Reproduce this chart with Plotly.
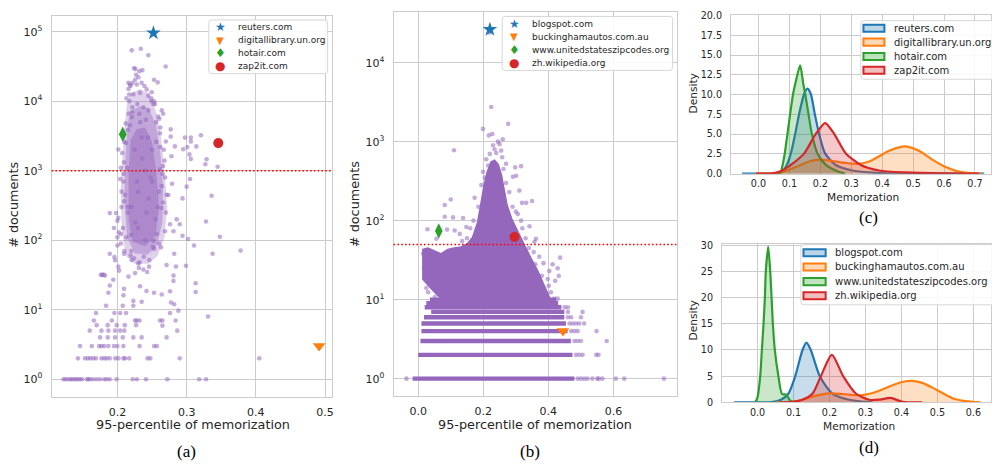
import plotly.graph_objects as go

W, H = 992, 466
PURPLE = '#9467bd'
BLUE, ORANGE, GREEN, RED = '#1f77b4', '#ff7f0e', '#2ca02c', '#d62728'
TXT = '#262626'
GRID = '#cccccc'
FONT = 'DejaVu Sans'

# ---------------- panel (a) data ----------------
a_names = ['reuters.com', 'digitallibrary.un.org', 'hotair.com', 'zap2it.com']
a_hi_x = [0.252, 0.4913, 0.2077, 0.3457]
a_hi_y = [96000, 3, 3350, 2500]
a_threshold = 1000

a_x = [0.2976, 0.306, 0.3207, 0.306, 0.301, 0.314, 0.295, 0.304, 0.306, 0.3288, 0.327, 0.3447, 0.277, 0.270, 0.283, 0.278,
       0.305, 0.300, 0.294, 0.279, 0.2736, 0.336, 0.328, 0.348, 0.378, 0.3375, 0.3106, 0.302, 0.294, 0.290, 0.2856, 0.281,
       0.282, 0.271, 0.2846, 0.299, 0.281, 0.281, 0.313, 0.313, 0.276, 0.264, 0.2774, 0.282, 0.288, 0.276, 0.331, 0.284,
       0.265, 0.2615, 0.2865, 0.271, 0.253, 0.257, 0.29, 0.2435, 0.2476, 0.405, 0.272, 0.318, 0.328, 0.2413, 0.228, 0.222,
       0.122, 0.125, 0.128, 0.1317, 0.134, 0.1375, 0.140, 0.143, 0.146, 0.149, 0.156, 0.158, 0.1606, 0.165, 0.170, 0.175,
       0.181, 0.1846, 0.189, 0.199,
       0.143, 0.153, 0.157, 0.1606, 0.165, 0.169, 0.177, 0.181, 0.1846, 0.189, 0.197, 0.2014, 0.2087, 0.211, 0.217,
       0.146, 0.163, 0.1736, 0.177, 0.181, 0.187, 0.195, 0.2, 0.2087, 0.232,
       0.175, 0.186, 0.1966, 0.2077, 0.223, 0.235,
       0.16, 0.177, 0.187, 0.1966, 0.204, 0.21,
       0.17, 0.186, 0.199, 0.2106, 0.227,
       0.166, 0.192, 0.2255, 0.228, 0.232, 0.265,
       0.169, 0.1957, 0.204, 0.2125,
       0.1837, 0.2077, 0.223,
       0.187, 0.189, 0.194, 0.176, 0.178, 0.2024, 0.2014, 0.1966, 0.2096, 0.2087, 0.223, 0.235, 0.242, 0.2529, 0.2327,
       0.216, 0.2255, 0.2375, 0.2457, 0.2207, 0.23, 0.189, 0.1957, 0.2, 0.189, 0.198, 0.2014, 0.205, 0.2096,
       0.2014, 0.204, 0.206, 0.2096, 0.2096, 0.2125, 0.215, 0.2163, 0.2173, 0.219, 0.222, 0.2159, 0.2255, 0.2303, 0.235,
       0.239, 0.228, 0.223, 0.2327, 0.2423, 0.2447, 0.2495, 0.252, 0.264, 0.266, 0.2606, 0.277, 0.2615, 0.2543, 0.253,
       0.2495, 0.2216, 0.2288, 0.2375, 0.2447, 0.2207, 0.2317, 0.241,
       0.2207, 0.2337, 0.2447, 0.2697, 0.224, 0.2317, 0.2529, 0.2582, 0.2183, 0.227,
       0.2615, 0.266, 0.264, 0.257, 0.263, 0.252, 0.2688, 0.276, 0.195, 0.2, 0.205, 0.21, 0.18, 0.182, 0.2, 0.202,
       0.22, 0.23, 0.24, 0.25, 0.235, 0.225, 0.245, 0.255, 0.23, 0.24, 0.22, 0.215, 0.25, 0.26, 0.218, 0.244, 0.228,
       0.236, 0.248, 0.214, 0.258, 0.226, 0.233, 0.242, 0.219, 0.251,
       0.207, 0.209, 0.211, 0.206, 0.208, 0.21, 0.212, 0.205, 0.209, 0.267, 0.269, 0.271, 0.266, 0.27, 0.268, 0.264,
       0.262, 0.259, 0.256, 0.213, 0.216, 0.22, 0.224, 0.232, 0.238, 0.246, 0.253, 0.26, 0.217, 0.221, 0.249, 0.256,
       0.213, 0.215, 0.262, 0.265, 0.231, 0.243, 0.236, 0.226]
a_y = [3000, 3000, 3240, 2630, 2190, 2240, 2040, 1720, 1480, 1460, 1240, 1140, 3100, 2630, 2240, 1620,
       760, 590, 400, 650, 447, 436, 186, 112, 71, 64, 84, 104, 116, 170, 200, 135,
       64, 44, 42, 43, 31, 26, 24, 18, 18.5, 16.6, 12.7, 12, 9.7, 9, 8, 7,
       5.9, 7, 5, 4, 3, 3, 2, 2, 2, 2, 1, 1, 1, 1, 1, 1,
       1, 1, 1, 1, 1, 1, 1, 1, 1, 1, 1, 1, 1, 1, 1, 1,
       1, 1, 1, 1,
       2, 2, 2, 2, 2, 2, 2, 2, 2, 2, 2, 2, 2, 2, 2,
       3, 3, 3, 3, 3, 3, 3, 3, 3, 3,
       4, 4, 4, 4, 4, 4,
       5, 5, 5, 5, 5, 5,
       6, 6, 6, 6, 6,
       7, 7, 7, 7, 7, 7,
       9, 9, 9, 9,
       11.4, 11.4, 11.4,
       17.6, 22.3, 27, 31.8, 31.8, 36.6, 41.7, 51.6, 20, 16.1, 13.4, 13, 18.6, 17.6, 21.8,
       30, 33.7, 38, 41.7, 51.6, 46.4, 64, 57.5, 84, 246, 246, 210, 123, 64,
       2020, 762, 500, 363, 1320, 2500, 3860, 6600, 10000, 16600, 18400, 18400, 20400, 22100, 18400,
       16600, 17400, 12600, 13200, 14800, 12000, 10000, 9100, 7400, 6600, 5600, 3940, 3470, 9100, 10000,
       13500, 8200, 9100, 8200, 7400, 5900, 6600, 5400,
       54000, 57000, 46000, 31600, 30000, 27000, 20400, 18700, 17400, 24000,
       1050, 1170, 290, 123, 79, 98, 135, 170, 150, 110, 90, 70, 32, 31, 190, 130,
       300, 500, 1000, 2000, 3000, 2000, 400, 200, 150, 100, 120, 250, 700, 500, 4500, 3000, 700,
       1500, 800, 1100, 300, 180, 5000, 250, 60, 80,
       1800, 900, 450, 300, 150, 2600, 4800, 1100, 700, 2000, 800, 450, 350, 250, 1400, 600,
       4200, 6000, 2600, 11000, 15000, 70, 55, 48, 58, 52, 75, 90, 12500, 7000, 11000, 5000,
       110, 300, 2200, 900, 40, 35, 28000, 29000]

# dense core of panel (a): three nested envelopes (loose -> densest)
a_env1_x = [0.214, 0.209, 0.205, 0.206, 0.212, 0.225, 0.245, 0.258, 0.268, 0.272, 0.268, 0.263, 0.256, 0.245, 0.232,
            0.22]
a_env1_y = [10000, 3000, 600, 150, 60, 46, 46, 60, 110, 300, 1000, 3000, 7000, 13000, 15000, 13000]
a_env2_x = [0.216, 0.212, 0.21, 0.214, 0.225, 0.243, 0.256, 0.265, 0.266, 0.262, 0.256, 0.245, 0.232, 0.222]
a_env2_y = [5500, 1800, 400, 110, 65, 62, 80, 180, 600, 1800, 4500, 8000, 8500, 7500]
a_env3_x = [0.219, 0.216, 0.216, 0.222, 0.24, 0.255, 0.26, 0.256, 0.25, 0.24, 0.228]
a_env3_y = [2800, 800, 200, 95, 82, 115, 300, 1000, 2600, 4200, 4000]

# ---------------- panel (b) data ----------------
b_names = ['blogspot.com', 'buckinghamautos.com.au', 'www.unitedstateszipcodes.org', 'zh.wikipedia.org']
b_hi_x = [0.2204, 0.445, 0.0633, 0.296]
b_hi_y = [26300, 4, 74, 62]
b_threshold = 50

b_x = [0.218, 0.2245, 0.2765, 0.199, 0.110, 0.2276, 0.217, 0.26, 0.25, 0.2347, 0.255, 0.209, 0.258, 0.27, 0.316, 0.298,
       0.291, 0.301, 0.199, 0.194, 0.1735, 0.311, 0.319, 0.35, 0.332, 0.10, 0.0816, 0.0816, 0.107, 0.138, 0.316, 0.342,
       0.306, 0.0286, 0.0888, 0.056, 0.112, 0.1276, 0.148, 0.362, 0.357, 0.372, 0.385, 0.413, 0.436, 0.4286, 0.432,
       0.421, 0.403, 0.398, 0.401, 0.408, 0.418, 0.4286, 0.0337, 0.048, 0.061, 0.0306, 0.051, 0.0663, 0.085, 0.107,
       0.117, 0.046, 0.0714, 0.02, 0.015, 0.018, 0.025,
       0.22, 0.24, 0.23, 0.245, 0.215, 0.262, 0.205, 0.27, 0.28, 0.185, 0.29, 0.3, 0.17, 0.16, 0.32, 0.33, 0.34, 0.355,
       0.36, 0.38, 0.39, 0.15, 0.135,
       -0.036, 0.49, 0.5, 0.51, 0.52, 0.535, 0.55, 0.555, 0.566, 0.607, 0.633, 0.755,
       0.485, 0.495, 0.505, 0.547, 0.554,
       0.48, 0.49, 0.5, 0.579,
       0.47, 0.48, 0.49, 0.548,
       0.465, 0.475, 0.485, 0.495, 0.51,
       0.46, 0.47, 0.5,
       0.46, 0.505,
       0.45, 0.46]
b_y = [24000, 2750, 1680, 1450, 780, 1250, 1200, 1070, 930, 800, 770, 600, 635, 525, 490, 473,
       360, 370, 415, 282, 195, 240, 168, 177, 168, 185, 158, 112, 110, 108, 100, 85,
       121, 78, 77, 59, 75, 68, 83, 59, 54, 35, 29, 28, 34, 25, 20,
       17.3, 23, 18.2, 15, 12.4, 10.3, 10.3, 18.2, 15, 13.6, 12.4, 10.8, 10.3, 10, 12.4,
       13.6, 22, 24, 30, 38, 25, 14,
       700, 720, 900, 1000, 500, 450, 350, 300, 230, 150, 150, 130, 100, 80, 80, 60, 45, 40,
       28, 20, 12, 60, 55,
       1, 1, 1, 1, 1, 1, 1, 1, 1, 1, 1, 1,
       2, 2, 2, 2, 2,
       3, 3, 3, 3,
       4, 4, 4, 4,
       5, 5, 5, 5, 5,
       6, 6, 6,
       7, 7,
       8, 8]

# integer-count rows of panel (b): count value and x extent of the dense row
b_row_count = [1, 2, 3, 4, 5, 6, 7, 8, 9, 10]
b_row_x0 = [-0.017, 0.0, 0.007, 0.010, 0.010, 0.018, 0.040, 0.020, 0.025, 0.036]
b_row_x1 = [0.48, 0.474, 0.469, 0.459, 0.454, 0.449, 0.449, 0.44, 0.43, 0.424]

# dense cloud envelope of panel (b)
b_cloud_x = [0.012, 0.012, 0.03, 0.05, 0.07, 0.09, 0.11, 0.13, 0.15, 0.165, 0.18, 0.19, 0.2, 0.21, 0.222, 0.235,
             0.248, 0.258, 0.266, 0.275, 0.29, 0.31, 0.33, 0.35, 0.37, 0.39, 0.405, 0.412, 0.1, 0.06, 0.035]
b_cloud_y = [18, 44, 46, 42, 39, 44, 46, 47, 52, 62, 95, 160, 280, 420, 560, 600, 520, 380, 250, 160, 105, 70, 48,
             33, 23, 15, 11, 9, 9, 11, 14]

# ---------------- panel (c) KDEs ----------------
c_x = [
    [-0.053, 0.0, 0.05, 0.078, 0.0916, 0.1047, 0.1186, 0.1315, 0.1477, 0.158, 0.169, 0.182, 0.196, 0.2155, 0.25,
     0.3037, 0.358, 0.42, 0.5, 0.6, 0.73],
    [-0.01, 0.04, 0.072, 0.12, 0.164, 0.196, 0.239, 0.282, 0.325, 0.358, 0.39, 0.422, 0.465, 0.4814, 0.519, 0.562,
     0.605, 0.648, 0.691, 0.72],
    [0.062, 0.072, 0.078, 0.085, 0.0937, 0.1024, 0.112, 0.1186, 0.1347, 0.145, 0.151, 0.1616, 0.1725, 0.1906, 0.218,
     0.255, 0.28],
    [-0.008, 0.04, 0.0716, 0.1047, 0.1477, 0.1854, 0.2155, 0.2446, 0.2824, 0.331, 0.39, 0.476, 0.6, 0.713],
]
c_y = [
    [0, 0, 0.02, 0.3, 1.1, 2.56, 5.03, 7.55, 10.1, 10.76, 10.1, 7.55, 5.03, 2.56, 1.1, 0.4, 0.15, 0.05, 0.02, 0.01, 0],
    [0, 0.02, 0.12, 0.83, 1.53, 1.78, 1.6, 1.36, 1.24, 1.53, 2.19, 2.89, 3.42, 3.42, 2.89, 1.78, 0.83, 0.25, 0.03, 0],
    [0, 0.2, 1.1, 2.56, 5.03, 7.55, 10.1, 11.3, 13.7, 11.3, 10.1, 7.55, 5.03, 2.56, 1.1, 0.3, 0],
    [0, 0.02, 0.3, 1.1, 2.56, 5.03, 6.4, 5.03, 2.56, 1.1, 0.4, 0.15, 0.03, 0],
]

# ---------------- panel (d) KDEs ----------------
d_x = [
    [-0.065, 0.0, 0.04, 0.065, 0.086, 0.1047, 0.125, 0.136, 0.148, 0.173, 0.208, 0.255, 0.32],
    [0.05, 0.08, 0.116, 0.162, 0.199, 0.236, 0.273, 0.301, 0.338, 0.375, 0.412, 0.43, 0.458, 0.4956, 0.5417, 0.579,
     0.62],
    [-0.0065, 0.0, 0.0074, 0.012, 0.0167, 0.0204, 0.023, 0.0296, 0.0352, 0.039, 0.0426, 0.048, 0.058, 0.068, 0.08,
     0.09, 0.1],
    [0.06, 0.097, 0.125, 0.153, 0.176, 0.2066, 0.238, 0.273, 0.31, 0.34, 0.37, 0.403, 0.458],
]
d_y = [
    [0, 0, 0.05, 0.5, 1.7, 5.0, 10.0, 11.4, 10.0, 5.0, 1.7, 0.5, 0],
    [0, 0.08, 0.37, 1.3, 1.74, 1.6, 1.37, 1.5, 2.24, 3.29, 4.03, 4.1, 3.73, 2.48, 0.81, 0.25, 0],
    [0, 1, 5, 10, 15, 20, 25, 29.7, 25, 20, 15, 10, 5, 1.6, 1.5, 0.4, 0],
    [0, 0.1, 0.5, 1.7, 5.0, 9.07, 5.0, 1.7, 0.5, 0.55, 0.87, 0.1, 0],
]

COLORS = [BLUE, ORANGE, GREEN, RED]
SYMBOLS = ['star', 'triangle-down', 'diamond-tall', 'circle']
SYM_SIZE = [11, 11, 11, 10]
GLYPHS = ['\u2605', '\u25BC', '\u2666', '\u25CF']
GLYPH_SIZE = [12, 10, 12, 12]


def px(x):
    return x / W


def py(y):
    return 1 - y / H


def rgba(hexc, a):
    h = hexc.lstrip('#')
    return 'rgba(%d,%d,%d,%.2f)' % (int(h[0:2], 16), int(h[2:4], 16), int(h[4:6], 16), a)


fig = go.Figure()
common = dict(showlegend=False, hoverinfo='skip')
dot = dict(size=4.6, color=PURPLE, opacity=0.55, line=dict(width=0))

# ---- (a)
for ex, ey, op in [(a_env1_x, a_env1_y, 0.3), (a_env2_x, a_env2_y, 0.4), (a_env3_x, a_env3_y, 0.45)]:
    fig.add_trace(go.Scatter(x=ex, y=ey, mode='lines', fill='toself', fillcolor=rgba(PURPLE, op),
                             line=dict(width=0), xaxis='x', yaxis='y', **common))
fig.add_trace(go.Scatter(x=a_x, y=a_y, mode='markers', marker=dot, xaxis='x', yaxis='y', **common))
for i in range(4):
    fig.add_trace(go.Scatter(x=[a_hi_x[i]], y=[a_hi_y[i]], mode='markers', name=a_names[i],
                             marker=dict(symbol=SYMBOLS[i], size=SYM_SIZE[i], color=COLORS[i], line=dict(width=0)),
                             xaxis='x', yaxis='y', **common))

# ---- (b)
for k, x0, x1 in zip(b_row_count, b_row_x0, b_row_x1):
    fig.add_trace(go.Scatter(x=[x0, x1], y=[k, k], mode='lines', line=dict(color=PURPLE, width=4.4),
                             xaxis='x2', yaxis='y2', **common))
fig.add_trace(go.Scatter(x=b_cloud_x, y=b_cloud_y, mode='lines', fill='toself', fillcolor=PURPLE,
                         line=dict(width=0), xaxis='x2', yaxis='y2', **common))
fig.add_trace(go.Scatter(x=b_x, y=b_y, mode='markers', marker=dot, xaxis='x2', yaxis='y2', **common))
for i in range(4):
    fig.add_trace(go.Scatter(x=[b_hi_x[i]], y=[b_hi_y[i]], mode='markers', name=b_names[i],
                             marker=dict(symbol=SYMBOLS[i], size=SYM_SIZE[i], color=COLORS[i], line=dict(width=0)),
                             xaxis='x2', yaxis='y2', **common))

# ---- (c) and (d)
for xs, ys, names, xa, ya in [(c_x, c_y, a_names, 'x3', 'y3'), (d_x, d_y, b_names, 'x4', 'y4')]:
    for i in range(4):
        fig.add_trace(go.Scatter(x=xs[i], y=ys[i], mode='lines', fill='tozeroy', name=names[i],
                                 fillcolor=rgba(COLORS[i], 0.25),
                                 line=dict(color=COLORS[i], width=2.2, shape='spline', smoothing=0.7),
                                 xaxis=xa, yaxis=ya, **common))


def axis(domain, rng, tickvals, ticktext, size, standoff, anchor, log=False):
    d = dict(domain=domain, range=rng, tickvals=tickvals, ticktext=ticktext, showgrid=True, gridcolor=GRID,
             gridwidth=1, showline=True, linecolor=GRID, linewidth=1, mirror=True, zeroline=False, ticks='',
             tickfont=dict(family=FONT, size=size, color=TXT), ticklabelstandoff=standoff, anchor=anchor,
             fixedrange=True)
    if log:
        d['type'] = 'log'
    return d


def sup(e):
    return '10<sup>%d</sup>' % e


layout = dict(
    width=W, height=H, margin=dict(l=0, r=0, t=0, b=0), paper_bgcolor='white', plot_bgcolor='white',
    font=dict(family=FONT, color=TXT),
    xaxis=axis([px(51.7), px(332.7)], [0.105, 0.5105], [0.2, 0.3, 0.4, 0.5], ['0.2', '0.3', '0.4', '0.5'], 11, 5,
               'y'),
    yaxis=axis([py(400), py(10)], [-0.249, 5.23], [1, 10, 100, 1e3, 1e4, 1e5], [sup(e) for e in range(6)], 11, 6,
               'x', log=True),
    xaxis2=axis([px(394), px(677.3)], [-0.0755, 0.794], [0.0, 0.2, 0.4, 0.6], ['0.0', '0.2', '0.4', '0.6'], 11, 5,
                'y2'),
    yaxis2=axis([py(399.3), py(6)], [-0.218, 4.643], [1, 10, 100, 1e3, 1e4], [sup(e) for e in range(5)], 11, 6,
                'x2', log=True),
    xaxis3=axis([px(731.7), 1.0], [-0.089, 0.7518], [i / 10 for i in range(8)], ['%.1f' % (i / 10) for i in range(8)],
                9.6, 1, 'y3'),
    yaxis3=axis([py(171.7), py(9.7)], [0, 20], [2.5 * i for i in range(9)], ['%.1f' % (2.5 * i) for i in range(9)],
                9.6, 6, 'x3'),
    xaxis4=axis([px(722.7), 1.0], [-0.0989, 0.649], [i / 10 for i in range(7)], ['%.1f' % (i / 10) for i in range(7)],
                9.6, 1, 'y4'),
    yaxis4=axis([py(406), py(243.3)], [0, 30.3], [5 * i for i in range(7)], [str(5 * i) for i in range(7)],
                9.6, 6, 'x4'),
)
fig.update_layout(**layout)

shapes = []
# threshold lines
for xa, ya, thr in [('x', 'y', a_threshold), ('x2', 'y2', b_threshold)]:
    shapes.append(dict(type='line', xref=xa + ' domain', yref=ya, x0=0, x1=1, y0=thr, y1=thr,
                       line=dict(color='red', width=1.6, dash='1.6px,2.2px'), layer='above'))


def rounded_box(x0, y0, x1, y1, r=3):
    rx, ry = r / W, r / H
    X0, X1, Y0, Y1 = px(x0), px(x1), py(y0), py(y1)
    path = ('M %f,%f L %f,%f Q %f,%f %f,%f L %f,%f Q %f,%f %f,%f L %f,%f Q %f,%f %f,%f L %f,%f Q %f,%f %f,%f Z' % (
        X0 + rx, Y0, X1 - rx, Y0, X1, Y0, X1, Y0 - ry, X1, Y1 + ry, X1, Y1, X1 - rx, Y1, X0 + rx, Y1, X0, Y1, X0,
        Y1 + ry, X0, Y0 - ry, X0, Y0, X0 + rx, Y0))
    return dict(type='path', xref='paper', yref='paper', path=path, fillcolor='rgba(255,255,255,0.85)',
                line=dict(color='#d6d6d6', width=1), layer='above')


shapes.append(rounded_box(209, 14.3, 328, 69.3))
shapes.append(rounded_box(502.7, 10.7, 673.3, 66))
shapes.append(rounded_box(861.7, 15, 1000, 75))
shapes.append(rounded_box(801.7, 244.3, 1000, 306))

annotations = []


def text(x, y, s, size, family=FONT, angle=0, xanchor='center', color=TXT):
    annotations.append(dict(x=px(x), y=py(y), xref='paper', yref='paper', text=s, showarrow=False, textangle=angle,
                            xanchor=xanchor, yanchor='middle', font=dict(family=family, size=size, color=color)))


# legend (a) and (b): marker glyph + label
for names, gx, tx, ys in [(a_names, 220.7, 236.5, [22, 35, 48.3, 61.3]),
                          (b_names, 515, 531, [18.3, 31.7, 45, 58.3])]:
    for i in range(4):
        text(gx, ys[i], GLYPHS[i], GLYPH_SIZE[i], color=COLORS[i])
        text(tx, ys[i], names[i], 9, xanchor='left')

# legend (c) and (d): patch + label
for names, rx0, rx1, tx, ys in [(a_names, 864.3, 885.3, 893, [22.7, 37, 51.7, 65.7]),
                                (b_names, 804.3, 826.5, 834, [252.7, 267.3, 282.3, 296.7])]:
    for i in range(4):
        shapes.append(dict(type='rect', xref='paper', yref='paper', x0=px(rx0), x1=px(rx1), y0=py(ys[i] - 3.6),
                           y1=py(ys[i] + 3.6), fillcolor=rgba(COLORS[i], 0.3), line=dict(color=COLORS[i], width=2),
                           layer='above'))
        text(tx, ys[i], names[i], 10, xanchor='left')

# axis titles
text(192.7, 428.3, '95-percentile of memorization', 12.8)
text(12.7, 204, '# documents', 12.8, angle=-90)
text(535.7, 428.3, '95-percentile of memorization', 12.8)
text(355, 203.3, '# documents', 12.8, angle=-90)
text(864, 195.5, 'Memorization', 10.6)
text(693.3, 90, 'Density', 10.6, angle=-90)
text(860, 430.5, 'Memorization', 10.6)
text(694, 321.7, 'Density', 10.6, angle=-90)

# captions
for cx, cy, s in [(187, 456.5, '(a)'), (530.7, 456.5, '(b)'), (869.3, 216.7, '(c)'), (870, 451.7, '(d)')]:
    text(cx, cy, s, 17, family='Liberation Serif', color='black')

fig.update_layout(shapes=shapes, annotations=annotations)
fig.write_html('out.html', config={'displayModeBar': False},
               post_script="document.body.style.margin='0';document.body.style.overflow='hidden';")
